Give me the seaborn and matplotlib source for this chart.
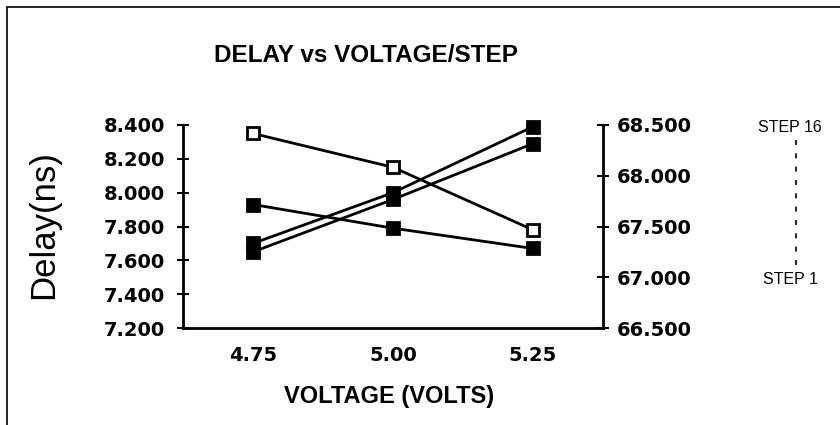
import numpy as np
import pandas as pd
import matplotlib
matplotlib.use("Agg")
import matplotlib.pyplot as plt
from matplotlib.ticker import FormatStrFormatter
from matplotlib.lines import Line2D
import seaborn as sns

# ---- data ----
voltages = [4.75, 5.00, 5.25]
series_open = [8.35, 8.15, 7.78]
series_flat = [7.93, 7.79, 7.67]
series_rise_a = [7.70, 8.00, 8.39]
series_rise_b = [7.65, 7.96, 8.29]
left_ticks = [7.2, 7.4, 7.6, 7.8, 8.0, 8.2, 8.4]
right_ticks = [66.5, 67.0, 67.5, 68.0, 68.5]

sns.set_theme(style="white")
plt.rcParams["font.family"] = ["Liberation Sans", "DejaVu Sans"]
plt.rcParams["text.color"] = "black"

fig = plt.figure(figsize=(8.4, 4.25), dpi=100)
ax = fig.add_axes([183/840, 1-328/425, 420/840, 203/425])

lw = 2.0
for vals, face in [(series_open, "white"), (series_flat, "black"),
                   (series_rise_a, "black"), (series_rise_b, "black")]:
    sns.lineplot(x=voltages, y=vals, ax=ax, color="black", linewidth=lw,
                 marker="s", markersize=9, markerfacecolor=face,
                 markeredgecolor="black", markeredgewidth=2.0, clip_on=False)

step = voltages[1] - voltages[0]
ax.set_xlim(voltages[0] - step/2, voltages[-1] + step/2)
ax.set_ylim(left_ticks[0], left_ticks[-1])
ax.set_xticks(voltages)
edges = [voltages[0] - step/2] + [(a + b)/2 for a, b in zip(voltages[:-1], voltages[1:])] + [voltages[-1] + step/2]
ax.set_xticks(edges, minor=True)
ax.set_yticks(left_ticks)
ax.xaxis.set_major_formatter(FormatStrFormatter("%.2f"))
ax.yaxis.set_major_formatter(FormatStrFormatter("%.3f"))

tick_font = dict(family="DejaVu Sans", weight="bold", size=14)
for lab in ax.get_xticklabels() + ax.get_yticklabels():
    lab.set_fontproperties(matplotlib.font_manager.FontProperties(**tick_font))

ax.tick_params(axis="x", which="major", length=0, pad=13, colors="black")
ax.tick_params(axis="x", which="minor", direction="inout", length=8, width=1.5, color="black")
ax.tick_params(axis="y", which="major", direction="inout", length=8, width=1.5,
               pad=9, colors="black", left=True)
ax.grid(False)
for s in ["top", "right"]:
    ax.spines[s].set_visible(False)
for s in ["left", "bottom"]:
    ax.spines[s].set_linewidth(lw)
    ax.spines[s].set_color("black")

ax2 = ax.twinx()
ax2.set_ylim(right_ticks[0], right_ticks[-1])
ax2.set_yticks(right_ticks)
ax2.yaxis.set_major_formatter(FormatStrFormatter("%.3f"))
for lab in ax2.get_yticklabels():
    lab.set_fontproperties(matplotlib.font_manager.FontProperties(**tick_font))
ax2.tick_params(axis="y", which="major", direction="inout", length=8, width=1.5,
                pad=6, colors="black", right=True)
ax2.grid(False)
for s in ["top", "left", "bottom"]:
    ax2.spines[s].set_visible(False)
ax2.spines["right"].set_linewidth(lw)
ax2.spines["right"].set_color("black")

# texts
fig.text(366/840, 1-55/425, "DELAY vs VOLTAGE/STEP", ha="center", va="center",
         fontsize=17.5, fontweight="bold", family="Liberation Sans", color="black")
fig.text(389/840, 1-396/425, "VOLTAGE (VOLTS)", ha="center", va="center",
         fontsize=17, fontweight="bold", family="Liberation Sans", color="black")
fig.text(44/840, 1-225/425, "Delay(ns)", ha="center", va="center",
         rotation=90, fontsize=25, family="Liberation Sans", color="black")
fig.text(790/840, 1-128/425, "STEP 16", ha="center", va="center",
         fontsize=11.5, family="Liberation Sans", color="black")
fig.text(790/840, 1-279/425, "STEP 1", ha="center", va="center",
         fontsize=11.5, family="Liberation Sans", color="black")
fig.add_artist(Line2D([796/840, 796/840], [1-140/425, 1-272/425], color="black",
                      linewidth=1.2, linestyle=(0, (3, 5)), transform=fig.transFigure))

# outer frame (top and left)
fig.add_artist(Line2D([7/840, 1.0], [1-7/425, 1-7/425], color="black", linewidth=1.2,
                      transform=fig.transFigure))
fig.add_artist(Line2D([7/840, 7/840], [0.0, 1-7/425], color="black", linewidth=1.2,
                      transform=fig.transFigure))

fig.savefig("out.png", dpi=100, facecolor="white")
